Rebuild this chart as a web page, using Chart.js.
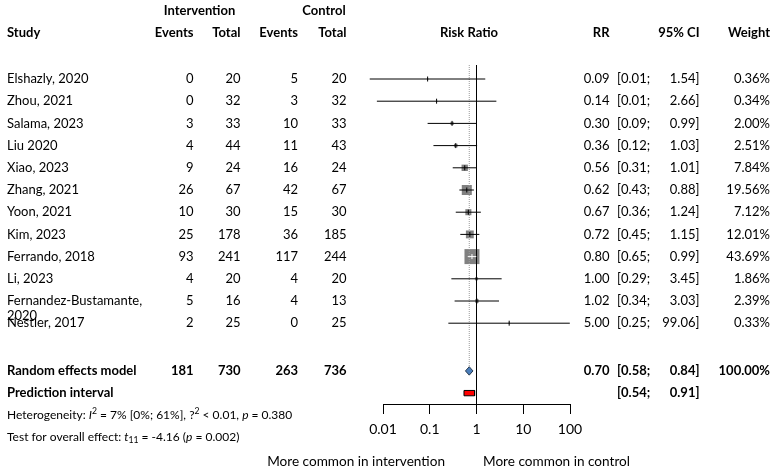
<!DOCTYPE html>
<html>
<head>
<meta charset="utf-8">
<script src="https://cdn.jsdelivr.net/npm/chart.js@4.4.1/dist/chart.umd.min.js"></script>
<style>
	html, body { margin: 0; padding: 0; background: #fff; }
</style>
</head>
<body>
<canvas id="grafico_forest" width="780" height="474"></canvas>
<script>
// dados dos estudos
var estudos = ["Elshazly, 2020", "Zhou, 2021", "Salama, 2023", "Liu 2020", "Xiao, 2023", "Zhang, 2021",
	"Yoon, 2021", "Kim, 2023", "Ferrando, 2018", "Li, 2023", "Fernandez-Bustamante,\n2020", "Nestler, 2017"];
var eventos_int = [0, 0, 3, 4, 9, 26, 10, 25, 93, 4, 5, 2];
var total_int = [20, 32, 33, 44, 24, 67, 30, 178, 241, 20, 16, 25];
var eventos_ctl = [5, 3, 10, 11, 16, 42, 15, 36, 117, 4, 4, 0];
var total_ctl = [20, 32, 33, 43, 24, 67, 30, 185, 244, 20, 13, 25];
var rr = [0.09, 0.14, 0.30, 0.36, 0.56, 0.62, 0.67, 0.72, 0.80, 1.00, 1.02, 5.00];
var ic_inf = [0.0052, 0.0074, 0.09, 0.12, 0.31, 0.43, 0.36, 0.45, 0.65, 0.29, 0.34, 0.25];
var ic_sup = [1.54, 2.66, 0.99, 1.03, 1.01, 0.88, 1.24, 1.15, 0.99, 3.45, 3.03, 99.06];
var peso = [0.36, 0.34, 2.00, 2.51, 7.84, 19.56, 7.12, 12.01, 43.69, 1.86, 2.39, 0.33];

// modelo de efeitos aleatorios
var totais_modelo = [181, 730, 263, 736];
var rr_modelo = 0.70;
var ic_modelo = [0.58, 0.84];
var peso_modelo = 100;
var intervalo_predicao = [0.54, 0.91];

// eixo
var ticks_eixo = [0.01, 0.1, 1, 10, 100];
var rotulos_eixo = ["0.01", "0.1", "1", "10", "100"];

// layout (pixels)
var y_primeira = 79;
var passo = 22.2;
var altura_area = 404;
var y_min = 1 - y_primeira / passo;
var y_max = 1 + (altura_area - y_primeira) / passo;
var linha_modelo = 14.15;
var linha_predicao = 15.15;
var fonte = "Lato";

var peso_max = Math.max.apply(null, peso);
function lado_caixa(w) {
	return 15 * Math.sqrt(w / peso_max);
}

// ic inteiro dentro da caixa -> linha branca
function ic_dentro(chart, i) {
	var x = chart.scales.x;
	var c = x.getPixelForValue(rr[i]);
	var meio = lado_caixa(peso[i]) / 2;
	return x.getPixelForValue(ic_inf[i]) >= c - meio && x.getPixelForValue(ic_sup[i]) <= c + meio;
}

var datasets = [];

// caixas
datasets.push({
	data: rr.map(function (v, i) { return { x: v, y: i + 1 }; }),
	pointStyle: "rect",
	pointRadius: function (ctx) { return lado_caixa(peso[ctx.dataIndex]) / (2 * Math.SQRT1_2); },
	pointBackgroundColor: "#808080",
	pointBorderWidth: 0,
	clip: false,
	order: 5
});

// linhas dos intervalos
rr.forEach(function (v, i) {
	datasets.push({
		data: [{ x: ic_inf[i], y: i + 1 }, { x: ic_sup[i], y: i + 1 }],
		showLine: true,
		borderWidth: 1,
		borderColor: function (ctx) { return ic_dentro(ctx.chart, i) ? "#ffffff" : "#000000"; },
		pointRadius: 0,
		clip: false,
		order: 3
	});
});

// marcas da estimativa
datasets.push({
	data: rr.map(function (v, i) { return { x: v, y: i + 1 }; }),
	pointStyle: "line",
	rotation: 90,
	pointRadius: 2.5,
	pointBorderWidth: 1,
	pointBorderColor: function (ctx) { return ic_dentro(ctx.chart, ctx.dataIndex) ? "#ffffff" : "#000000"; },
	clip: false,
	order: 2
});

// linha de nulidade
datasets.push({
	data: [{ x: 1, y: 0.37 }, { x: 1, y: y_max }],
	showLine: true, borderWidth: 1, borderColor: "#000", pointRadius: 0, clip: false, order: 4
});

// linha pontilhada do modelo
datasets.push({
	data: [{ x: rr_modelo, y: 0.37 }, { x: rr_modelo, y: linha_modelo - 0.19 }],
	showLine: true, borderWidth: 1, borderColor: "#9a9a9a", borderDash: [1, 1], pointRadius: 0, clip: false, order: 4
});

// losango
datasets.push({
	data: [
		{ x: ic_modelo[0], y: linha_modelo },
		{ x: rr_modelo, y: linha_modelo - 0.19 },
		{ x: ic_modelo[1], y: linha_modelo },
		{ x: rr_modelo, y: linha_modelo + 0.19 },
		{ x: ic_modelo[0], y: linha_modelo }
	],
	showLine: true, fill: "shape", backgroundColor: "#4a7ebb", borderColor: "#26384d", borderWidth: 1,
	pointRadius: 0, clip: false, order: 1
});

// intervalo de predicao
datasets.push({
	data: [
		{ x: intervalo_predicao[0], y: linha_predicao - 0.12 },
		{ x: intervalo_predicao[1], y: linha_predicao - 0.12 },
		{ x: intervalo_predicao[1], y: linha_predicao + 0.12 },
		{ x: intervalo_predicao[0], y: linha_predicao + 0.12 },
		{ x: intervalo_predicao[0], y: linha_predicao - 0.12 }
	],
	showLine: true, fill: "shape", backgroundColor: "#ff0000", borderColor: "#000", borderWidth: 1,
	pointRadius: 0, clip: false, order: 1
});

function texto(ctx, t, x, y, alinhamento, negrito, tamanho) {
	ctx.font = (negrito ? "bold " : "") + (tamanho || 13) + "px " + fonte;
	ctx.textAlign = alinhamento;
	ctx.fillText(t, x, y);
}

function texto_rico(ctx, partes, x, y, tamanho) {
	ctx.textAlign = "left";
	partes.forEach(function (p) {
		var t = p.sup || p.sub ? tamanho * 0.72 : tamanho;
		ctx.font = (p.it ? "italic " : "") + t + "px " + fonte;
		var dy = p.sup ? -tamanho * 0.35 : (p.sub ? tamanho * 0.28 : 0);
		ctx.fillText(p.t, x, y + dy);
		x += ctx.measureText(p.t).width;
	});
}

var plugin_tabela = {
	id: "tabela",
	afterDraw: function (chart) {
		var ctx = chart.ctx;
		var ys = chart.scales.y;
		ctx.save();
		ctx.fillStyle = "#000";
		ctx.textBaseline = "middle";

		var y0 = ys.getPixelForValue(-2.06);
		texto(ctx, "Intervention", 199.5, y0, "center", true);
		texto(ctx, "Control", 324, y0, "center", true);

		var y1 = ys.getPixelForValue(-1.06);
		texto(ctx, "Study", 7, y1, "left", true);
		texto(ctx, "Events", 193.5, y1, "right", true);
		texto(ctx, "Total", 240.5, y1, "right", true);
		texto(ctx, "Events", 298, y1, "right", true);
		texto(ctx, "Total", 346.5, y1, "right", true);
		texto(ctx, "Risk Ratio", 469, y1, "center", true);
		texto(ctx, "RR", 609.5, y1, "right", true);
		texto(ctx, "95% CI", 699.5, y1, "right", true);
		texto(ctx, "Weight", 770, y1, "right", true);

		estudos.forEach(function (nome, i) {
			var y = ys.getPixelForValue(i + 1);
			nome.split("\n").forEach(function (parte, k) {
				texto(ctx, parte, 7, y + k * 15, "left", false);
			});
			texto(ctx, String(eventos_int[i]), 193.5, y, "right", false);
			texto(ctx, String(total_int[i]), 240.5, y, "right", false);
			texto(ctx, String(eventos_ctl[i]), 298, y, "right", false);
			texto(ctx, String(total_ctl[i]), 346.5, y, "right", false);
			texto(ctx, rr[i].toFixed(2), 609.5, y, "right", false);
			texto(ctx, "[" + ic_inf[i].toFixed(2) + ";", 617, y, "left", false);
			texto(ctx, ic_sup[i].toFixed(2) + "]", 699.5, y, "right", false);
			texto(ctx, peso[i].toFixed(2) + "%", 770, y, "right", false);
		});

		var ym = ys.getPixelForValue(linha_modelo);
		texto(ctx, "Random effects model", 7, ym, "left", true);
		texto(ctx, String(totais_modelo[0]), 193.5, ym, "right", true);
		texto(ctx, String(totais_modelo[1]), 240.5, ym, "right", true);
		texto(ctx, String(totais_modelo[2]), 298, ym, "right", true);
		texto(ctx, String(totais_modelo[3]), 346.5, ym, "right", true);
		texto(ctx, rr_modelo.toFixed(2), 609.5, ym, "right", true);
		texto(ctx, "[" + ic_modelo[0].toFixed(2) + ";", 617, ym, "left", true);
		texto(ctx, ic_modelo[1].toFixed(2) + "]", 699.5, ym, "right", true);
		texto(ctx, peso_modelo.toFixed(2) + "%", 770, ym, "right", true);

		var yp = ys.getPixelForValue(linha_predicao);
		texto(ctx, "Prediction interval", 7, yp, "left", true);
		texto(ctx, "[" + intervalo_predicao[0].toFixed(2) + ";", 617, yp, "left", true);
		texto(ctx, intervalo_predicao[1].toFixed(2) + "]", 699.5, yp, "right", true);

		texto_rico(ctx, [
			{ t: "Heterogeneity: " }, { t: "I", it: 1 }, { t: "2", sup: 1 },
			{ t: " = 7% [0%; 61%], " }, { t: "?" }, { t: "2", sup: 1 },
			{ t: " < 0.01, " }, { t: "p", it: 1 }, { t: " = 0.380" }
		], 7, ys.getPixelForValue(16.14), 12);
		texto_rico(ctx, [
			{ t: "Test for overall effect: " }, { t: "t", it: 1 }, { t: "11", sub: 1 },
			{ t: " = -4.16 (" }, { t: "p", it: 1 }, { t: " = 0.002)" }
		], 7, ys.getPixelForValue(17.13), 12);

		var yb = ys.getPixelForValue(18.24);
		texto(ctx, "More common in intervention", 445, yb, "right", false, 13.6);
		texto(ctx, "More common in control", 483, yb, "left", false, 13.6);
		ctx.restore();
	}
};

new Chart(document.getElementById("grafico_forest"), {
	type: "scatter",
	data: { datasets: datasets },
	options: {
		responsive: false,
		animation: false,
		events: [],
		layout: { autoPadding: false, padding: { left: 383, right: 210, top: 0, bottom: 0 } },
		plugins: { legend: { display: false }, tooltip: { enabled: false } },
		elements: { line: { tension: 0 } },
		scales: {
			x: {
				type: "logarithmic",
				min: 0.01,
				max: 100,
				position: "bottom",
				afterBuildTicks: function (escala) {
					escala.ticks = ticks_eixo.map(function (v) { return { value: v }; });
				},
				afterFit: function (escala) { escala.height = 474 - altura_area; },
				grid: { drawOnChartArea: false, drawTicks: true, tickLength: 10, color: "#000", lineWidth: 1 },
				border: { display: true, color: "#000", width: 1 },
				ticks: {
					autoSkip: false, maxRotation: 0, padding: 7, color: "#000",
					font: { family: fonte, size: 14 },
					callback: function (v, i) { return rotulos_eixo[i]; }
				}
			},
			y: { type: "linear", display: false, reverse: true, min: y_min, max: y_max }
		}
	},
	plugins: [plugin_tabela]
});
</script>
</body>
</html>
